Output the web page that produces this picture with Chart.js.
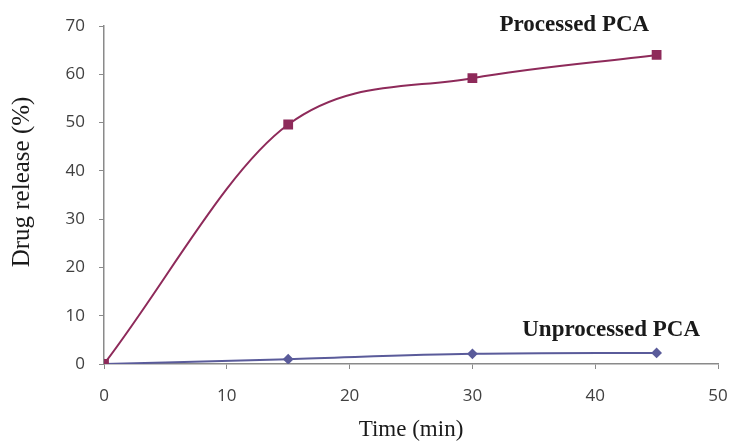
<!DOCTYPE html>
<html>
<head>
<meta charset="utf-8">
<script src="https://cdn.jsdelivr.net/npm/chart.js@4"></script>
<style>
  html, body { margin: 0; padding: 0; background: #fff; }
  #wrap { width: 731px; height: 446px; }
</style>
</head>
<body>
<div id="wrap"><canvas id="releaseChart"></canvas></div>
<script>
// Drug release data
const timeMin = [0, 15, 30, 45];
const processedPCA = [0, 49.6, 59.2, 64.0];
const unprocessedPCA = [0, 1.0, 2.1, 2.3];
const xTicks = [0, 10, 20, 30, 40, 50];
const yTicks = [0, 10, 20, 30, 40, 50, 60, 70];

const seriesLabels = [
    { text: 'Processed PCA', x: 38.3, y: 70.2 },
    { text: 'Unprocessed PCA', x: 41.3, y: 7.0 }
];

const toPoints = vals => vals.map((v, i) => ({ x: timeMin[i], y: v }));

const serif = '"Liberation Serif", "Times New Roman", serif';

// series names next to the curves + the y title (sits a bit above the axis middle)
const textPlugin = {
    id: 'chartText',
    afterDatasetsDraw(chart) {
        const { ctx, scales } = chart;
        ctx.save();
        ctx.fillStyle = '#1a1a1a';
        ctx.textAlign = 'center';
        ctx.textBaseline = 'middle';
        ctx.font = 'bold 23px ' + serif;
        seriesLabels.forEach(l => {
            ctx.fillText(l.text, scales.x.getPixelForValue(l.x), scales.y.getPixelForValue(l.y));
        });
        ctx.font = '25px ' + serif;
        ctx.translate(22, scales.y.getPixelForValue(37.7));
        ctx.rotate(-Math.PI / 2);
        ctx.fillText('Drug release (%)', 0, 0);
        ctx.restore();
    }
};

const ctx = document.getElementById('releaseChart').getContext('2d');
new Chart(ctx, {
    type: 'line',
    data: {
        datasets: [
            {
                label: 'Processed PCA',
                data: toPoints(processedPCA),
                borderColor: '#8e2a5a',
                backgroundColor: '#8e2a5a',
                borderWidth: 2,
                pointStyle: 'rect',
                pointRadius: 5.5,
                cubicInterpolationMode: 'monotone'
            },
            {
                label: 'Unprocessed PCA',
                data: toPoints(unprocessedPCA),
                borderColor: '#5a5b9a',
                backgroundColor: '#5a5b9a',
                borderWidth: 2,
                pointStyle: 'rectRot',
                pointRadius: 4,
                cubicInterpolationMode: 'monotone'
            }
        ]
    },
    options: {
        responsive: true,
        maintainAspectRatio: false,
        animation: false,
        layout: { padding: { top: 26, right: 13, left: 0, bottom: 0 } },
        plugins: { legend: { display: false }, tooltip: { enabled: false } },
        scales: {
            x: {
                type: 'linear',
                min: 0,
                max: 50,
                afterBuildTicks: s => { s.ticks = xTicks.map(v => ({ value: v })); },
                afterFit: s => { s.height = 82; s.paddingLeft = 0; s.paddingRight = 0; },
                grid: { drawOnChartArea: false, tickLength: 5, color: '#8a8a8a' },
                border: { color: '#8a8a8a', width: 1.5 },
                ticks: { padding: 17, color: '#404040', font: { family: '"Open Sans", sans-serif', size: 17 } },
                title: {
                    display: true,
                    text: 'Time (min)',
                    color: '#1a1a1a',
                    padding: { top: 0, bottom: 2 },
                    font: { family: serif, size: 23 }
                }
            },
            y: {
                min: 0,
                max: 70,
                afterBuildTicks: s => { s.ticks = yTicks.map(v => ({ value: v })); },
                afterFit: s => { s.width = 104; },
                grid: { drawOnChartArea: false, tickLength: 5, color: '#8a8a8a' },
                border: { color: '#8a8a8a', width: 1.5 },
                ticks: { padding: 14, color: '#404040', font: { family: '"Open Sans", sans-serif', size: 17 } }
            }
        }
    },
    plugins: [textPlugin]
});
</script>
</body>
</html>
